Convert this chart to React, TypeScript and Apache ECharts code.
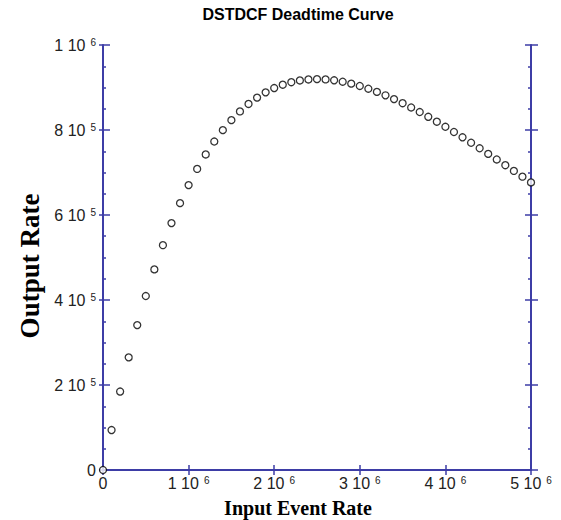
import React, { useEffect, useRef } from "react";
import * as echarts from "echarts";

const inputRate = [
  0, 100000, 200000, 300000, 400000, 500000, 600000, 700000, 800000, 900000,
  1000000, 1100000, 1200000, 1300000, 1400000, 1500000, 1600000, 1700000, 1800000, 1900000,
  2000000, 2100000, 2200000, 2300000, 2400000, 2500000, 2600000, 2700000, 2800000, 2900000,
  3000000, 3100000, 3200000, 3300000, 3400000, 3500000, 3600000, 3700000, 3800000, 3900000,
  4000000, 4100000, 4200000, 4300000, 4400000, 4500000, 4600000, 4700000, 4800000, 4900000,
  5000000,
];

const outputRate = [
  0, 94000, 184600, 265000, 340900, 409400, 472000, 529000, 580900, 627900,
  670300, 708400, 742500, 772900, 799700, 823200, 843700, 861300, 876200, 888600,
  898700, 906600, 912500, 916600, 918900, 919700, 919000, 916900, 913600, 909100,
  903600, 897100, 889700, 881600, 872700, 863100, 853000, 842300, 831100, 819500,
  807600, 795300, 782800, 770000, 757000, 743800, 730600, 717200, 703700, 690200,
  676700,
];

const xTickValues = [0, 1000000, 2000000, 3000000, 4000000, 5000000];
const xTickLabels = ["0", "1 10^6", "2 10^6", "3 10^6", "4 10^6", "5 10^6"];
const yTickValues = [0, 200000, 400000, 600000, 800000, 1000000];
const yTickLabels = ["0", "2 10^5", "4 10^5", "6 10^5", "8 10^5", "1 10^6"];

const titleText = "DSTDCF Deadtime Curve";
const xName = "Input Event Rate";
const yName = "Output Rate";

const AXIS_COLOR = "#3d3da6";
const LABEL_FONT = "'Liberation Sans', Arial, sans-serif";

function makeFormatter(values: number[], labels: string[]) {
  return (v: number) => {
    const i = values.findIndex((t) => Math.abs(t - v) < 1e-6);
    if (i < 0) return "";
    const parts = labels[i].split("^");
    if (parts.length === 1) return "{z|" + parts[0] + "}";
    return "{n|" + parts[0] + "}{s|" + parts[1] + "}";
  };
}

const richStyle = {
  z: { fontSize: 16, lineHeight: 16, color: "#222", fontFamily: LABEL_FONT },
  n: { fontSize: 16, lineHeight: 16, color: "#222", verticalAlign: "bottom", fontFamily: LABEL_FONT },
  s: { fontSize: 10, lineHeight: 10, color: "#222", verticalAlign: "top", padding: [0, 0, 11, 5], fontFamily: LABEL_FONT },
};

export default function App() {
  const ref = useRef<HTMLDivElement>(null);
  useEffect(() => {
    if (!ref.current) return;
    const chart = echarts.init(ref.current, undefined, { renderer: "svg" });
    const axisLine = { show: true, lineStyle: { color: AXIS_COLOR, width: 2 } };
    const tickStyle = { color: AXIS_COLOR, width: 1.5 };
    chart.setOption({
      animation: false,
      backgroundColor: "#fff",
      title: {
        text: titleText,
        left: 298,
        top: 6,
        padding: 0,
        textAlign: "center",
        textStyle: {
          fontSize: 16,
          fontWeight: "bold",
          color: "#000",
          fontFamily: LABEL_FONT,
        },
      },
      grid: { left: 103, right: 30, top: 45, bottom: 50, containLabel: false },
      xAxis: [
        {
          type: "value",
          position: "bottom",
          min: 0,
          max: 5000000,
          interval: 1000000,
          axisLine,
          axisTick: { show: true, inside: true, length: 5, lineStyle: tickStyle },
          splitLine: { show: false },
          axisLabel: {
            show: true,
            margin: 5,
            formatter: makeFormatter(xTickValues, xTickLabels),
            rich: richStyle,
          },
        },
        {
          type: "value",
          position: "top",
          min: 0,
          max: 5000000,
          interval: 1000000,
          axisLine,
          axisTick: { show: true, inside: true, length: 5, lineStyle: tickStyle },
          splitLine: { show: false },
          axisLabel: { show: false },
        },
      ],
      yAxis: [
        {
          type: "value",
          position: "left",
          min: 0,
          max: 1000000,
          interval: 200000,
          axisLine,
          axisTick: { show: true, inside: true, length: 7, lineStyle: tickStyle },
          minorTick: { show: true, splitNumber: 4, length: 3, lineStyle: tickStyle },
          splitLine: { show: false },
          axisLabel: {
            show: true,
            margin: 7,
            formatter: makeFormatter(yTickValues, yTickLabels),
            rich: richStyle,
          },
        },
        {
          type: "value",
          position: "left",
          min: 0,
          max: 1000000,
          interval: 200000,
          axisLine: { show: false },
          axisTick: { show: true, inside: false, length: 4, lineStyle: tickStyle },
          splitLine: { show: false },
          axisLabel: { show: false },
        },
        {
          type: "value",
          position: "right",
          min: 0,
          max: 1000000,
          interval: 200000,
          axisLine,
          axisTick: { show: true, inside: true, length: 6, lineStyle: tickStyle },
          minorTick: { show: true, splitNumber: 4, length: 3, lineStyle: tickStyle },
          splitLine: { show: false },
          axisLabel: { show: false },
        },
        {
          type: "value",
          position: "right",
          min: 0,
          max: 1000000,
          interval: 200000,
          axisLine: { show: false },
          axisTick: { show: true, inside: false, length: 7, lineStyle: tickStyle },
          splitLine: { show: false },
          axisLabel: { show: false },
        },
      ],
      graphic: [
        {
          type: "text",
          x: 30,
          y: 266,
          rotation: Math.PI / 2,
          style: {
            text: yName,
            fill: "#000",
            font: "bold 27px 'Liberation Serif', 'Times New Roman', serif",
            textAlign: "center",
            textVerticalAlign: "middle",
          },
        },
        {
          type: "text",
          x: 298,
          y: 508,
          style: {
            text: xName,
            fill: "#000",
            font: "bold 20px 'Liberation Serif', 'Times New Roman', serif",
            textAlign: "center",
            textVerticalAlign: "middle",
          },
        },
      ],
      series: [
        {
          type: "scatter",
          xAxisIndex: 0,
          yAxisIndex: 0,
          data: inputRate.map((x, i) => [x, outputRate[i]]),
          symbol: "circle",
          symbolSize: 7,
          clip: false,
          itemStyle: { color: "#fff", borderColor: "#000", borderWidth: 1.3 },
          z: 5,
        },
      ],
    });
    return () => chart.dispose();
  }, []);
  return (
    <div
      ref={ref}
      style={{ position: "fixed", left: 0, top: 0, width: 561, height: 520, background: "#fff" }}
    />
  );
}
